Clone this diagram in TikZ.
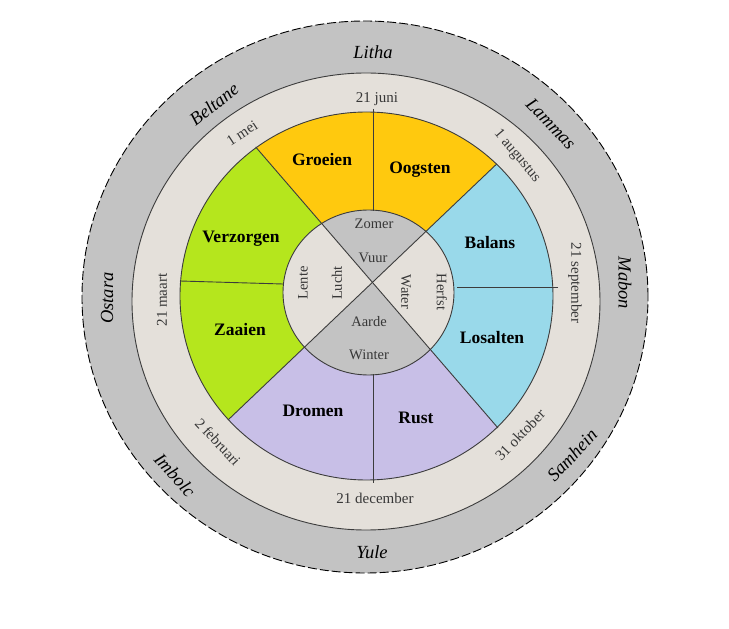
\documentclass[tikz,border=0pt]{standalone}
\usepackage{fontspec}
\setmainfont{Liberation Serif}
\usetikzlibrary{calc}
\definecolor{ringgray}{RGB}{195,195,195}
\definecolor{sandbeige}{RGB}{228,224,218}
\definecolor{sunyellow}{RGB}{255,201,14}
\definecolor{springgreen}{RGB}{181,230,29}
\definecolor{autumnblue}{RGB}{153,217,234}
\definecolor{winterlilac}{RGB}{200,191,231}
\definecolor{linegray}{RGB}{60,60,60}
\definecolor{softtext}{RGB}{55,55,55}
\tikzstyle{sabbat} = [font=\fontsize{18.5}{18.5}\selectfont\itshape, text=black, inner sep=0pt]
\tikzstyle{datum} = [font=\fontsize{15}{15}\selectfont, text=softtext, inner sep=0pt]
\tikzstyle{phase} = [font=\fontsize{17.5}{17.5}\selectfont\bfseries, text=black, inner sep=0pt]
\tikzstyle{element} = [font=\fontsize{14.5}{14.5}\selectfont, text=softtext, inner sep=0pt]
\tikzstyle{divider} = [draw=linegray, line width=0.9pt]

\begin{document}
\begin{tikzpicture}[x=1pt, y=1pt]
      \useasboundingbox (-366,-333) rectangle (363,296);
      \draw[fill=ringgray, dash pattern=on 9pt off 3pt, line width=0.9pt] (-1,-1) ellipse [x radius=283pt, y radius=276pt];
      \draw[fill=sandbeige, divider] (0,-5.5) ellipse [x radius=234pt, y radius=228.5pt];
      \coordinate (tlo) at (-110.3,149);
      \coordinate (tro) at (130.7,132);
      \coordinate (blo) at (-138,-124);
      \coordinate (bro) at (132,-132);
      \coordinate (hub) at (intersection of tlo--bro and tro--blo);
      \begin{scope}
        \clip (0.5,0) ellipse [x radius=186.5pt, y radius=184pt];
        \fill[sunyellow] (hub) -- ($(hub)!4!(tlo)$) -- ($(hub)!4!(tro)$) -- cycle;
        \fill[autumnblue] (hub) -- ($(hub)!4!(tro)$) -- ($(hub)!4!(bro)$) -- cycle;
        \fill[winterlilac] (hub) -- ($(hub)!4!(bro)$) -- ($(hub)!4!(blo)$) -- cycle;
        \fill[springgreen] (hub) -- ($(hub)!4!(blo)$) -- ($(hub)!4!(tlo)$) -- cycle;
      \end{scope}
      \draw[divider] (0.5,0) ellipse [x radius=186.5pt, y radius=184pt];
      \begin{scope}
        \clip (2.5,3.5) ellipse [x radius=85.5pt, y radius=82.5pt];
        \fill[ringgray] (2.5,3.5) ellipse [x radius=85.5pt, y radius=82.5pt];
        \fill[sandbeige] (hub) -- ($(hub)!4!(tlo)$) -- ($(hub)!4!(blo)$) -- cycle;
        \fill[sandbeige] (hub) -- ($(hub)!4!(tro)$) -- ($(hub)!4!(bro)$) -- cycle;
      \end{scope}
      \draw[divider] (2.5,3.5) ellipse [x radius=85.5pt, y radius=82.5pt];
      \draw[divider] (tlo) -- (bro);
      \draw[divider] (tro) -- (blo);
      \coordinate (juniout) at (7,187);
      \coordinate (juniin) at (7,85);
      \coordinate (decout) at (7,-187);
      \coordinate (decin) at (7,-78);
      \coordinate (maartout) at (-186,15);
      \coordinate (maartin) at (-83,12);
      \coordinate (septout) at (192,9);
      \coordinate (septin) at (91,9);
      \draw[divider] (juniout) -- (juniin);
      \draw[divider] (decout) -- (decin);
      \draw[divider] (maartout) -- (maartin);
      \draw[divider] (septout) -- (septin);

      \node[element] (zomer) at (8,72) {Zomer};
      \node[element] (vuur) at (7,38) {Vuur};
      \node[element] (aarde) at (3,-26) {Aarde};
      \node[element] (winter) at (3,-59) {Winter};
      \node[element, rotate=90] (lente) at (-63,13) {Lente};
      \node[element, rotate=90] (lucht) at (-29,13) {Lucht};
      \node[element, rotate=-90] (water) at (40,4) {Water};
      \node[element, rotate=-90] (herfst) at (76,4) {Herfst};

      \node[phase] (groeien) at (-44,136) {Groeien};
      \node[phase] (oogsten) at (54,126) {Oogsten};
      \node[phase] (verzorgen) at (-125,57) {Verzorgen};
      \node[phase] (zaaien) at (-126,-34) {Zaaien};
      \node[phase] (balans) at (124,53) {Balans};
      \node[phase] (losalten) at (126,-42) {Losalten};
      \node[phase] (dromen) at (-53,-115) {Dromen};
      \node[phase] (rust) at (50,-122) {Rust};

      \node[datum] (juni) at (11,197) {21 juni};
      \node[datum] (december) at (9,-202) {21 december};
      \node[datum, rotate=90] (maart) at (-204,-4) {21 maart};
      \node[datum, rotate=-90] (september) at (209,13) {21 september};
      \node[datum, rotate=33] (mei) at (-124,163) {1 mei};
      \node[datum, rotate=-50] (augustus) at (151,140) {1 augustus};
      \node[datum, rotate=-47] (februari) at (-148,-146) {2 februari};
      \node[datum, rotate=46] (oktober) at (154,-139) {31 oktober};

      \node[sabbat] (litha) at (7,244) {Litha};
      \node[sabbat] (yule) at (6,-256) {Yule};
      \node[sabbat, rotate=90] (ostara) at (-259,-2) {Ostara};
      \node[sabbat, rotate=-90] (mabon) at (259,13) {Mabon};
      \node[sabbat, rotate=38] (beltane) at (-152,192) {Beltane};
      \node[sabbat, rotate=-46] (lammas) at (185,172) {Lammas};
      \node[sabbat, rotate=-48] (imbolc) at (-191,-179) {Imbolc};
      \node[sabbat, rotate=47] (samhein) at (206,-159) {Samhein};
    \end{tikzpicture}
\end{document}
